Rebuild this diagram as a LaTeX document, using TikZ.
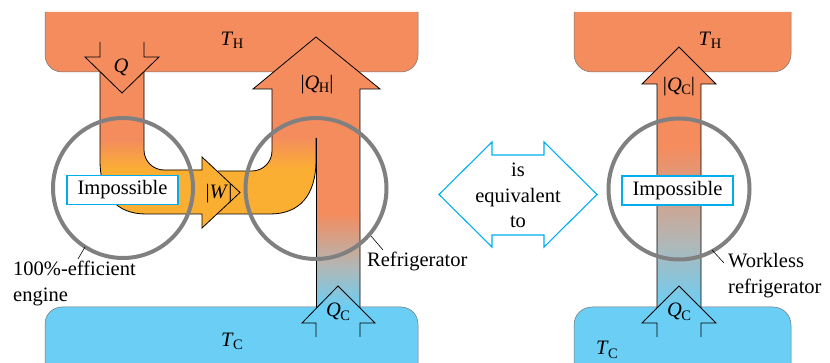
\documentclass[tikz,border=0pt]{standalone}
\usepackage{fontspec}
\setmainfont{Liberation Serif}
\newfontfamily\refserif{Liberation Serif}
\definecolor{hot}{RGB}{244,140,94}
\definecolor{warm}{RGB}{251,175,50}
\definecolor{cold}{RGB}{106,206,245}
\definecolor{tanmid}{RGB}{214,166,138}
\definecolor{graymid}{RGB}{176,184,184}
\definecolor{ringgray}{RGB}{128,128,128}
\definecolor{cyanline}{RGB}{0,174,239}
\newcommand\idx[2]{\textit{#1}\kern-0.5pt\raisebox{-3pt}{\fontsize{14.5}{14.5}\selectfont #2}}
\begin{document}
\begin{tikzpicture}[x=1pt,y=-1pt,
  outl/.style={draw=black,line width=0.8pt,line join=miter},
  resline/.style={draw=black!55,line width=0.5pt},
  ring/.style={draw=ringgray,line width=4pt},
  lbl/.style={font=\refserif\fontsize{20.5}{25}\selectfont,inner sep=0pt,anchor=base},
  lblw/.style={font=\refserif\fontsize{20.5}{25}\selectfont,inner sep=0pt,anchor=base west},
  impbox/.style={draw=cyanline,line width=1.6pt,fill=white,minimum width=111pt,minimum height=29pt,inner sep=0pt,font=\refserif\fontsize{20.5}{25}\selectfont},
  callout/.style={draw=black,line width=0.6pt}]
\useasboundingbox (0,0) rectangle (830,363);
\begin{scope}
\clip (0,0) rectangle (830,363);
% ---------- reservoirs ----------
\fill[hot] (45,12) -- (45,55) .. controls (45,64.4) and (52.6,72) .. (62,72) -- (401,72) .. controls (410.4,72) and (418,64.4) .. (418,55) -- (418,12) -- cycle;
\draw[resline] (45,12) -- (45,55) .. controls (45,64.4) and (52.6,72) .. (62,72) -- (401,72) .. controls (410.4,72) and (418,64.4) .. (418,55) -- (418,12);
\fill[cold] (45,370) -- (45,324) .. controls (45,314.6) and (52.6,307) .. (62,307) -- (401,307) .. controls (410.4,307) and (418,314.6) .. (418,324) -- (418,370) -- cycle;
\draw[resline] (45,370) -- (45,324) .. controls (45,314.6) and (52.6,307) .. (62,307) -- (401,307) .. controls (410.4,307) and (418,314.6) .. (418,324) -- (418,370);
\fill[hot] (574,12) -- (574,54) .. controls (574,64) and (582,72) .. (592,72) -- (773,72) .. controls (783,72) and (791,64) .. (791,54) -- (791,12) -- cycle;
\draw[resline] (574,12) -- (574,54) .. controls (574,64) and (582,72) .. (592,72) -- (773,72) .. controls (783,72) and (791,64) .. (791,54) -- (791,12);
\fill[cold] (574,370) -- (574,325) .. controls (574,315) and (582,307) .. (592,307) -- (773,307) .. controls (783,307) and (791,315) .. (791,325) -- (791,370) -- cycle;
\draw[resline] (574,370) -- (574,325) .. controls (574,315) and (582,307) .. (592,307) -- (773,307) .. controls (783,307) and (791,315) .. (791,325) -- (791,370);
% ---------- engine fill ----------
\begin{scope}
\clip (100,57) -- (100,160) .. controls (100,195) and (116,214) .. (146,214) -- (210,214) -- (210,170) -- (164,170) .. controls (153,170) and (144,161) .. (144,150) -- (144,57) -- cycle;
\fill[hot] (90,50) rectangle (230,140);
\shade[top color=hot,bottom color=warm] (90,139.5) rectangle (230,170);
\fill[warm] (90,169.5) rectangle (230,220);
\end{scope}
% ---------- refrigerator W part fill ----------
\begin{scope}
\clip (205,171) -- (252,171) .. controls (263,171) and (272,162) .. (272,151) -- (272,80) -- (316,80) -- (316,160) .. controls (316,195) and (300,214) .. (270,214) -- (205,214) -- cycle;
\fill[hot] (200,75) rectangle (320,137);
\shade[top color=hot,bottom color=warm] (200,136.5) rectangle (320,170);
\fill[warm] (200,169.5) rectangle (320,220);
\end{scope}
% ---------- left QC column ----------
\fill[hot] (316,72) rectangle (360,214);
\shade[top color=hot,middle color=tanmid,bottom color=graymid] (316,213.5) rectangle (360,268);
\shade[top color=graymid,bottom color=cold] (316,267.5) rectangle (360,308);
% Q_H head
\fill[hot] (272,72) rectangle (360,96);
\fill[hot] (253,89) -- (316,37) -- (380,89) -- cycle;
% W head
\fill[warm] (202,157) -- (240,192.5) -- (202,228) -- cycle;
% ---------- right column ----------
\fill[hot] (657,72) rectangle (701,148);
\shade[top color=hot,middle color=tanmid,bottom color=graymid] (657,147.5) rectangle (701,245);
\shade[top color=graymid,bottom color=cold] (657,244.5) rectangle (701,308);
\fill[hot] (642,84) -- (679,47) -- (716,84) -- cycle;
% ---------- outlines ----------
\draw[outl] (100,42) -- (100,57) -- (85,57) -- (122,93) -- (159,57) -- (144,57) -- (144,42);
\draw[outl] (100,72) -- (100,160) .. controls (100,195) and (116,214) .. (146,214) -- (202,214) -- (202,228) -- (240,192.5) -- (202,157) -- (202,170) -- (164,170) .. controls (153,170) and (144,161) .. (144,150) -- (144,72);
\draw[outl] (218,171) -- (252,171) .. controls (263,171) and (272,162) .. (272,151) -- (272,89) -- (253,89) -- (316,37) -- (380,89) -- (360,89) -- (360,307.5);
\draw[outl] (217,214) -- (270,214) .. controls (300,214) and (316,195) .. (316,160) -- (316,138);
\draw[outl] (316,138) -- (316,308.5);
\draw[outl] (316,337) -- (316,323) -- (302,323) -- (338,286) -- (375,323) -- (360,323) -- (360,337);
\draw[outl] (657,308) -- (657,84) -- (642,84) -- (679,47) -- (716,84) -- (701,84) -- (701,308);
\draw[outl] (657,337) -- (657,323) -- (642,323) -- (679,286) -- (716,323) -- (701,323) -- (701,337);
% ---------- rings ----------
\draw[ring] (123,188) circle[radius=70pt];
\draw[ring] (316,188.5) circle[radius=70.5pt];
\draw[ring] (679,189) circle[radius=70.5pt];
% ---------- double arrow ----------
\draw[cyanline,line width=1.1pt,line join=miter] (439,194.5) -- (492,142) -- (492,155) -- (544,155) -- (544,142) -- (597,194.5) -- (544,247) -- (544,235) -- (492,235) -- (492,247) -- cycle;
% ---------- callouts ----------
\coordinate (c1a) at (85,247); \coordinate (c1b) at (78,259);
\coordinate (c2a) at (371,236); \coordinate (c2b) at (383,250);
\coordinate (c3a) at (712,250); \coordinate (c3b) at (724,263);
\draw[callout] (c1a) -- (c1b);
\draw[callout] (c2a) -- (c2b);
\draw[callout] (c3a) -- (c3b);
% ---------- labels ----------
\node[lbl] (th1) at (232,46) {\idx{T}{H}};
\node[lbl] (tc1) at (232,346) {\idx{T}{C}};
\node[lbl] (th2) at (710,46) {\idx{T}{H}};
\node[lbl] (tc2) at (607,355) {\idx{T}{C}};
\node[lbl] (q) at (121,73) {\textit{Q}};
\node[lbl] (qh) at (317,89.5) {|\idx{Q}{H}|};
\node[lbl] (w) at (219,199) {|\textit{W}|};
\node[lbl] (qc1) at (338,317) {\idx{Q}{C}};
\node[lbl] (qc2) at (679,92) {|\idx{Q}{C}|};
\node[lbl] (qc3) at (679,317) {\idx{Q}{C}};
\node[impbox] (imp1) at (122.5,190) {Impossible};
\node[impbox] (imp2) at (677.5,190.5) {Impossible};
\node[lblw] (eng1) at (13,276) {100\%-efficient};
\node[lblw] (eng2) at (13,302) {engine};
\node[lblw] (ref) at (367,267) {Refrigerator};
\node[lblw] (wl1) at (728,268) {Workless};
\node[lblw] (wl2) at (728,294) {refrigerator};
\node[lbl] (eq1) at (518,177) {is};
\node[lbl] (eq2) at (518,203) {equivalent};
\node[lbl] (eq3) at (518,228) {to};
\end{scope}
\end{tikzpicture}
\end{document}
